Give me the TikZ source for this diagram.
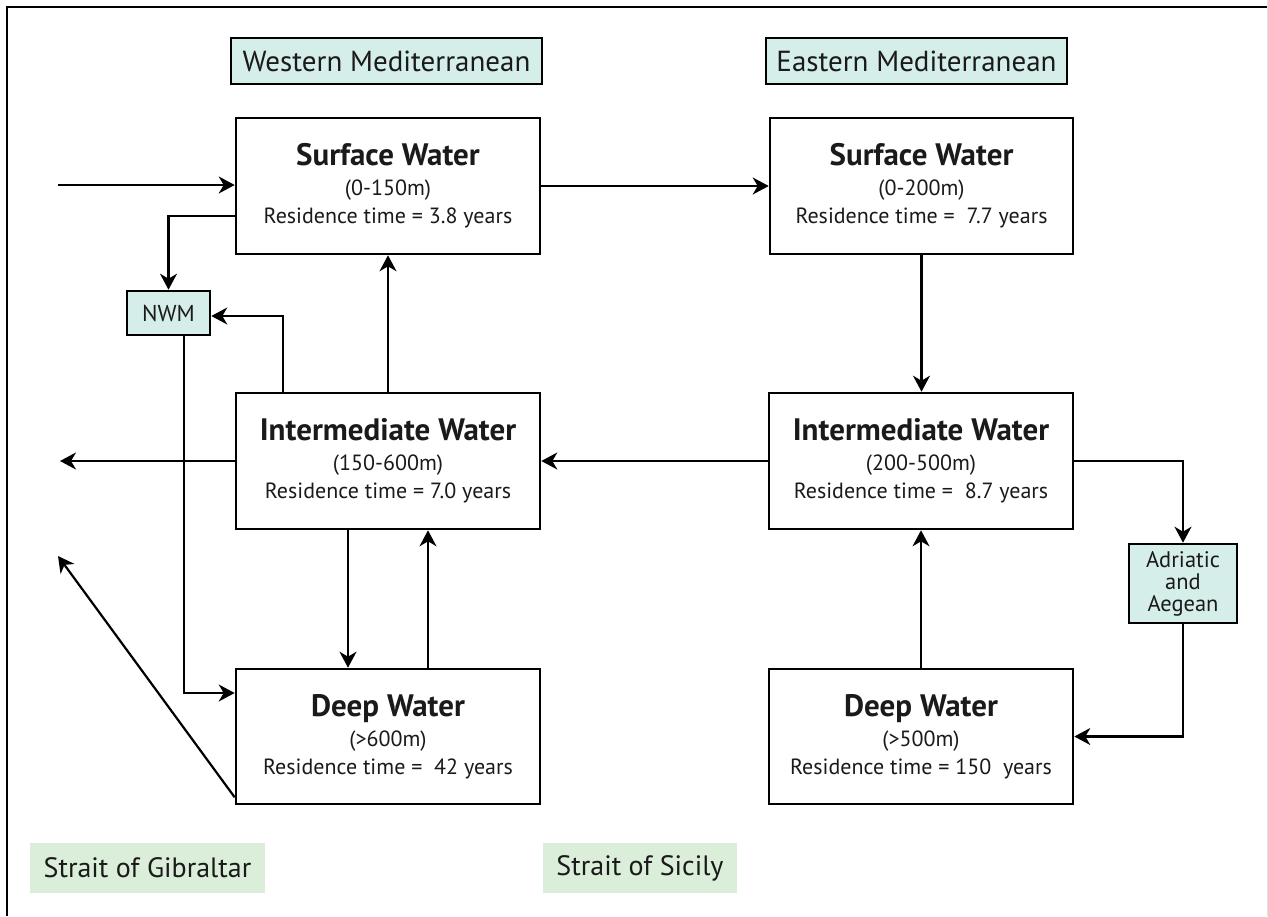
\documentclass[tikz,border=0pt]{standalone}
\usepackage{fontspec}
\setmainfont{PT Sans}
\usetikzlibrary{arrows.meta}
\definecolor{seafill}{HTML}{D5EEEA}
\definecolor{straitfill}{HTML}{DAEEDA}
\definecolor{ink}{HTML}{1A1A1A}
\newcommand{\layertitle}[1]{{\fontsize{31}{32}\selectfont\bfseries #1}}

\begin{document}
\begin{tikzpicture}[x=1pt,y=-1pt,
  every node/.style={text=ink},
  water/.style={draw, line width=2.6pt, fill=white, inner sep=0pt,
    minimum width=304pt, minimum height=136pt, align=center,
    font=\fontsize{22}{28}\selectfont},
  basin/.style={draw, line width=2.6pt, fill=seafill, inner sep=0pt,
    minimum height=46pt, font=\fontsize{29}{30}\selectfont},
  side/.style={draw, line width=2.6pt, fill=seafill, inner sep=0pt,
    align=center},
  strait/.style={fill=straitfill, inner sep=0pt, minimum height=50pt,
    font=\fontsize{28}{30}\selectfont},
  arr/.style={line width=2.2pt, -{Stealth[length=16pt,width=17pt,inset=5pt]}}
]
\useasboundingbox (0,0) rectangle (1268,916);
\fill[white] (0,0) rectangle (1268,916);

% page frame
\coordinate (frameTL) at (7,7);
\coordinate (frameTR) at (1268,7);
\coordinate (frameBL) at (7,916);
\draw[line width=2pt] (frameTR) -- (frameTL) -- (frameBL);
\draw[black!12, line width=1pt] (1267.5,0) -- (1267.5,916);

% basin headings
\node[basin, minimum width=311pt] (westH) at (386.5,61) {Western Mediterranean};
\node[basin, minimum width=301pt] (eastH) at (916.5,61) {Eastern Mediterranean};

% water layers
\node[water] (SW) at (388,186) {\layertitle{Surface Water}\\[2pt](0-150m)\\Residence time = 3.8 years};
\node[water, minimum width=303pt] (SE) at (921.5,186) {\layertitle{Surface Water}\\[2pt](0-200m)\\Residence time = \ 7.7 years};
\node[water] (IW) at (388,461) {\layertitle{Intermediate Water}\\[2pt](150-600m)\\Residence time = 7.0 years};
\node[water] (IE) at (921,461) {\layertitle{Intermediate Water}\\[2pt](200-500m)\\Residence time = \ 8.7 years};
\node[water, minimum height=135pt] (DW) at (388,736.5) {\layertitle{Deep Water}\\[2pt](>600m)\\Residence time = \ 42 years};
\node[water, minimum height=135pt] (DE) at (921,736.5) {\layertitle{Deep Water}\\[2pt](>500m)\\Residence time = 150 \ years};

% marginal seas
\node[side, minimum width=83pt, minimum height=44pt, font=\fontsize{23}{24}\selectfont] (NWM) at (168.5,313) {NWM};
\node[side, minimum width=108pt, minimum height=79pt, font=\fontsize{22.5}{22}\selectfont] (AA) at (1183,583.5) {Adriatic\\and\\Aegean};

% straits
\node[strait, minimum width=235pt] (gib) at (147.5,868) {Strait of Gibraltar};
\node[strait, minimum width=194pt] (sic) at (640,868) {Strait of Sicily};

% free ends of the open flows
\coordinate (inW) at (58,185);
\coordinate (outW) at (60,461);
\coordinate (outG) at (58,556);

% western basin flows
\draw[arr] (inW) -- (inW -| SW.west);
\draw[arr] ([yshift=-30pt]SW.west) -| (NWM.north);
\draw[arr] ([xshift=-105pt]IW.north) |- ([yshift=-3pt]NWM.east);
\draw[arr] (IW.north) -- (SW.south);
\draw[arr] (IW.west) -- (outW);
\draw[arr] ([xshift=15.5pt]NWM.south) |- ([yshift=43.5pt]DW.west);
\draw[arr] ([xshift=-40pt]IW.south) -- ([xshift=-40pt]DW.north);
\draw[arr] ([xshift=40pt]DW.north) -- ([xshift=40pt]IW.south);
\draw[arr] ([yshift=8pt]DW.south west) -- (outG);

% exchange through the Strait of Sicily and eastern flows
\draw[arr] (SW.east) -- (SE.west);
\draw[arr] (SE.south) -- (SE.south |- IE.north);
\draw[arr] (IE.west) -- (IW.east);
\draw[arr] (IE.east) -| (AA.north);
\draw[arr] (AA.south) |- (DE.east);
\draw[arr] (DE.north) -- (IE.south);
\end{tikzpicture}
\end{document}
